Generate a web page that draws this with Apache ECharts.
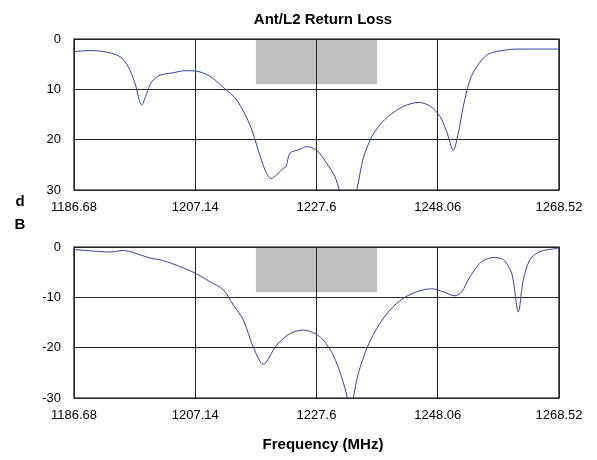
<!DOCTYPE html>
<html>
<head>
<meta charset="utf-8">
<script src="https://cdn.jsdelivr.net/npm/echarts@6/dist/echarts.min.js"></script>
<style>
  html, body { margin: 0; padding: 0; background: #fff; }
  #chart { width: 597px; height: 460px; }
</style>
</head>
<body>
<div id="chart"></div>
<script>
// Frequency span (MHz) and tick step for both panels
const freqMin = 1186.68;
const freqMax = 1268.52;
const freqStep = 20.46;

// L2 band (1227.6 ± 10.23 MHz) and the return-loss spec depth (dB)
const bandEdges = [1217.37, 1237.83];
const bandDepth = 9;

// Upper panel: return loss (dB, positive, axis inverted)
const topFreq = [
  1186.68, 1189.38, 1192.20, 1194.44, 1195.84, 1196.97, 1198.10, 1198.95, 1199.79, 1201.19,
  1203.44, 1205.41, 1207.38, 1209.63, 1211.87, 1214.13, 1216.38, 1217.78, 1218.91, 1219.92,
  1220.88, 1221.99, 1222.45, 1223.13, 1224.82, 1225.95, 1227.63, 1229.32, 1230.72, 1231.45,
  1232.92, 1234.38, 1235.50, 1236.91, 1237.64, 1238.32, 1240.00, 1242.25, 1244.78, 1246.75,
  1248.44, 1249.57, 1250.68, 1251.53, 1252.37, 1253.50, 1254.63, 1256.32, 1258.01, 1261.38,
  1268.52
];
const topLoss = [
  2.5, 2.3, 2.6, 3.5, 5.5, 8.8, 13.1, 10.8, 8.5, 7.2,
  6.7, 6.3, 6.4, 7.4, 9.6, 12.1, 17.1, 22.1, 26.0, 27.7,
  27.0, 25.7, 25.4, 22.7, 21.9, 21.4, 22.1, 24.7, 27.4, 30.0,
  35.0, 30.0, 23.6, 19.4, 18.1, 17.0, 15.1, 13.4, 12.6, 13.3,
  15.4, 18.4, 22.1, 18.7, 13.4, 8.1, 5.5, 3.2, 2.5, 2.0,
  2.0
];

// Lower panel: S11 magnitude (dB, negative)
const botFreq = [
  1186.68, 1188.82, 1192.75, 1195.00, 1196.69, 1199.50, 1201.75, 1204.57, 1207.15, 1209.63,
  1211.87, 1213.56, 1215.25, 1216.94, 1218.62, 1220.88, 1223.13, 1225.37, 1227.35, 1228.75,
  1230.43, 1231.85, 1232.80, 1233.30, 1233.81, 1234.65, 1236.07, 1237.76, 1240.00, 1242.25,
  1244.51, 1247.04, 1249.00, 1250.97, 1252.10, 1253.50, 1255.48, 1257.43, 1259.12, 1260.54,
  1261.65, 1262.50, 1263.63, 1265.32, 1268.13, 1268.52
];
const botS11 = [
  -0.5, -0.7, -1.0, -0.7, -1.1, -2.2, -2.7, -3.9, -5.2, -6.9,
  -8.5, -11.5, -14.5, -19.9, -23.3, -19.5, -17.2, -16.5, -17.2, -18.5,
  -21.5, -25.9, -30.0, -34.0, -30.0, -25.2, -20.2, -16.2, -12.5, -10.2,
  -8.9, -8.3, -8.9, -9.7, -8.9, -5.9, -2.9, -2.1, -2.5, -5.2,
  -12.9, -6.5, -2.5, -0.9, -0.3, -0.2
];

// Axis tick labels
const topYTicks = [0, 10, 20, 30];
const botYTicks = [-30, -20, -10, 0];

const FONT = "'Liberation Sans', Arial, sans-serif";
const LINE_COLOR = '#34439a';
const GRID_COLOR = '#262626';

const zip = (xs, ys) => xs.map((x, i) => [x, ys[i]]);

function xAxisFor(gridIndex) {
  return {
    type: 'value', gridIndex,
    min: freqMin, max: freqMax, interval: freqStep,
    axisLine: { show: false }, axisTick: { show: false },
    splitLine: { show: true, lineStyle: { color: GRID_COLOR, width: 1 } },
    axisLabel: {
      margin: 11, color: '#000', fontFamily: FONT, fontSize: 13,
      formatter: v => String(+v.toFixed(2))
    }
  };
}

function yAxisFor(gridIndex, ticks, inverse) {
  return {
    type: 'value', gridIndex, inverse,
    min: Math.min(...ticks), max: Math.max(...ticks), interval: 10,
    axisLine: { show: false }, axisTick: { show: false },
    splitLine: { show: true, lineStyle: { color: GRID_COLOR, width: 1 } },
    axisLabel: { margin: 13, color: '#000', fontFamily: FONT, fontSize: 13 }
  };
}

// Gray spec box drawn through the axis scales
function bandRect(params, api) {
  const p1 = api.coord([api.value(0), api.value(2)]);
  const p2 = api.coord([api.value(1), api.value(3)]);
  return {
    type: 'rect',
    shape: {
      x: Math.min(p1[0], p2[0]), y: Math.min(p1[1], p2[1]),
      width: Math.abs(p2[0] - p1[0]), height: Math.abs(p2[1] - p1[1])
    },
    style: { fill: '#c0c0c0' }
  };
}

const chart = echarts.init(document.getElementById('chart'), null, { renderer: 'canvas' });

chart.setOption({
  animation: false,
  backgroundColor: '#fff',
  grid: [
    { left: 74, right: 38, top: 39, height: 151, show: true, borderColor: '#000', borderWidth: 1.2, backgroundColor: 'transparent' },
    { left: 74, right: 38, top: 247, height: 151, show: true, borderColor: '#000', borderWidth: 1.2, backgroundColor: 'transparent' }
  ],
  xAxis: [xAxisFor(0), xAxisFor(1)],
  yAxis: [yAxisFor(0, topYTicks, true), yAxisFor(1, botYTicks, false)],
  graphic: [
    { type: 'text', x: 323, y: 20, style: { text: 'Ant/L2 Return Loss', font: `bold 15px ${FONT}`, fill: '#000', textAlign: 'center', textVerticalAlign: 'middle' } },
    { type: 'text', x: 20, y: 202, style: { text: 'd', font: `bold 15px ${FONT}`, fill: '#000', textAlign: 'center', textVerticalAlign: 'middle' } },
    { type: 'text', x: 20, y: 225, style: { text: 'B', font: `bold 15px ${FONT}`, fill: '#000', textAlign: 'center', textVerticalAlign: 'middle' } },
    { type: 'text', x: 323, y: 445, style: { text: 'Frequency (MHz)', font: `bold 15px ${FONT}`, fill: '#000', textAlign: 'center', textVerticalAlign: 'middle' } }
  ],
  series: [
    {
      type: 'custom', xAxisIndex: 0, yAxisIndex: 0, z: -1, silent: true,
      renderItem: bandRect,
      encode: { x: [0, 1], y: [2, 3] },
      data: [[bandEdges[0], bandEdges[1], 0, bandDepth]]
    },
    {
      type: 'custom', xAxisIndex: 1, yAxisIndex: 1, z: -1, silent: true,
      renderItem: bandRect,
      encode: { x: [0, 1], y: [2, 3] },
      data: [[bandEdges[0], bandEdges[1], 0, -bandDepth]]
    },
    {
      type: 'line', xAxisIndex: 0, yAxisIndex: 0,
      data: zip(topFreq, topLoss),
      showSymbol: false, smooth: 0.3, clip: true,
      lineStyle: { color: LINE_COLOR, width: 1 }
    },
    {
      type: 'line', xAxisIndex: 1, yAxisIndex: 1,
      data: zip(botFreq, botS11),
      showSymbol: false, smooth: 0.3, clip: true,
      lineStyle: { color: LINE_COLOR, width: 1 }
    }
  ]
});
</script>
</body>
</html>
